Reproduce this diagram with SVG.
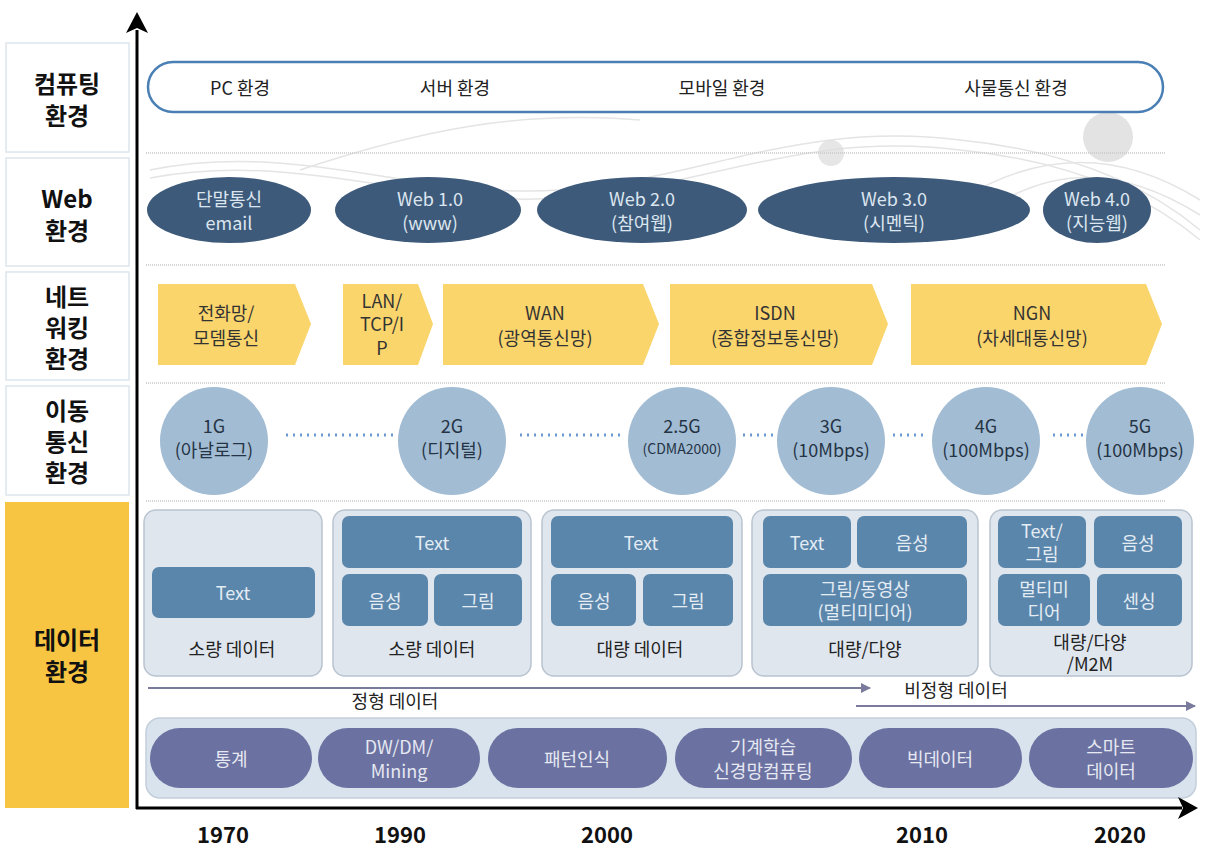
<svg xmlns="http://www.w3.org/2000/svg" width="1206" height="851" viewBox="0 0 1206 851">
<defs>
<style>
text{font-family:"Noto Sans CJK KR","Noto Sans",sans-serif;text-anchor:middle;dominant-baseline:central}
.lbl{font-size:24px;font-weight:bold;fill:#111}
.lbox{fill:#fff;stroke:#dce6ee;stroke-width:1.5}
.comp{font-size:18px;fill:#222}
.web{fill:#3e5a7a}
.webt{font-size:18px;fill:#dce6f0}
.chev{fill:#fad56c}
.chevt{font-size:18px;fill:#333}
.circ{fill:#a2bcd4}
.circt{font-size:18px;fill:#253445}
.dots{stroke:#6a9ad0;stroke-width:3;stroke-dasharray:2 5;fill:none}
.sep{stroke:#c8c8c8;stroke-width:1.5;stroke-dasharray:1 1;fill:none}
.dbox{fill:#dfe6ee;stroke:#b8c4d0;stroke-width:1.5}
.ibox{fill:#5b86ab}
.ibt{font-size:18px;fill:#e4ecf4}
.dlt{font-size:18px;fill:#222}
.pill{fill:#6b72a1}
.pillt{font-size:18px;fill:#e6e8f2}
.year{font-size:22px;font-weight:bold;fill:#111}
.parr{stroke:#7a7a9c;stroke-width:2;fill:none}
.swoosh{stroke:#e4e4e4;stroke-width:1.5;fill:none}
</style>
<marker id="pa" viewBox="0 0 10 10" refX="9" refY="5" markerWidth="5" markerHeight="5" orient="auto" markerUnits="strokeWidth"><path d="M0,0 L10,5 L0,10 Z" fill="#7a7a9c"/></marker>
</defs>
<rect width="1206" height="851" fill="#fff"/>

<!-- background decoration -->
<g id="decor">
<path class="swoosh" d="M150,170 C300,140 420,200 560,190 C700,180 800,120 960,140 C1060,150 1140,180 1200,230"/>
<path class="swoosh" d="M150,178 C300,150 420,208 560,198 C700,190 800,130 960,150 C1060,160 1140,190 1200,240"/>
<path class="swoosh" d="M300,170 C420,130 520,110 640,120"/>
<path class="swoosh" d="M960,200 C1040,150 1120,150 1200,200"/>
<path class="swoosh" d="M980,215 C1050,165 1120,165 1200,215"/>
<circle cx="1108" cy="137" r="25" fill="#dcdcdc" opacity="0.8"/>
<circle cx="831" cy="153" r="13" fill="#dcdcdc" opacity="0.7"/>
</g>

<!-- row separators -->
<g id="separators">
<line class="sep" x1="146" y1="153" x2="1165" y2="153"/>
<line class="sep" x1="146" y1="265" x2="1165" y2="265"/>
<line class="sep" x1="146" y1="383" x2="1165" y2="383"/>
<line class="sep" x1="146" y1="501" x2="1165" y2="501"/>
</g>

<!-- left labels -->
<g id="label-computing"><rect class="lbox" x="6" y="43" width="123" height="109"/><text class="lbl" x="67" y="82">컴퓨팅</text><text class="lbl" x="67" y="114">환경</text></g>
<g id="label-web"><rect class="lbox" x="6" y="158" width="123" height="108"/><text class="lbl" x="67" y="197">Web</text><text class="lbl" x="67" y="229">환경</text></g>
<g id="label-network"><rect class="lbox" x="6" y="272" width="123" height="108"/><text class="lbl" x="67" y="295">네트</text><text class="lbl" x="67" y="326">워킹</text><text class="lbl" x="67" y="357">환경</text></g>
<g id="label-mobile"><rect class="lbox" x="6" y="386" width="123" height="109"/><text class="lbl" x="67" y="409">이동</text><text class="lbl" x="67" y="440">통신</text><text class="lbl" x="67" y="471">환경</text></g>
<g id="label-data"><rect x="5" y="502" width="124" height="306" fill="#f8c542"/><text class="lbl" x="67" y="638">데이터</text><text class="lbl" x="67" y="670">환경</text></g>

<!-- computing -->
<g id="computing">
<rect x="148" y="62" width="1015" height="50" rx="25" fill="#fff" stroke="#4a7fb5" stroke-width="2.5"/>
<text class="comp" x="240" y="87">PC 환경</text>
<text class="comp" x="455" y="87">서버 환경</text>
<text class="comp" x="722" y="87">모바일 환경</text>
<text class="comp" x="1016" y="87">사물통신 환경</text>
</g>

<!-- web -->
<g id="web-1"><ellipse class="web" cx="229" cy="210" rx="82" ry="33"/><text class="webt" x="229" y="198">단말통신</text><text class="webt" x="229" y="222">email</text></g>
<g id="web-2"><ellipse class="web" cx="428" cy="210" rx="93" ry="33"/><text class="webt" x="430" y="198">Web 1.0</text><text class="webt" x="430" y="222">(www)</text></g>
<g id="web-3"><ellipse class="web" cx="642" cy="210" rx="105" ry="33"/><text class="webt" x="642" y="198">Web 2.0</text><text class="webt" x="642" y="222">(참여웹)</text></g>
<g id="web-4"><ellipse class="web" cx="894" cy="210" rx="136" ry="33"/><text class="webt" x="894" y="198">Web 3.0</text><text class="webt" x="894" y="222">(시멘틱)</text></g>
<g id="web-5"><ellipse class="web" cx="1097" cy="210" rx="54" ry="33"/><text class="webt" x="1097" y="198">Web 4.0</text><text class="webt" x="1097" y="222">(지능웹)</text></g>

<!-- networking -->
<g id="net-1"><polygon class="chev" points="158,284 295,284 311,324 295,365 158,365"/><text class="chevt" x="226" y="312">전화망/</text><text class="chevt" x="226" y="337">모뎀통신</text></g>
<g id="net-2"><polygon class="chev" points="343,284 418,284 433,324 418,365 343,365"/><text class="chevt" x="382" y="300">LAN/</text><text class="chevt" x="382" y="323">TCP/I</text><text class="chevt" x="382" y="347">P</text></g>
<g id="net-3"><polygon class="chev" points="443,284 643,284 659,324 643,365 443,365"/><text class="chevt" x="545" y="312">WAN</text><text class="chevt" x="545" y="337">(광역통신망)</text></g>
<g id="net-4"><polygon class="chev" points="670,284 872,284 888,324 872,365 670,365"/><text class="chevt" x="775" y="312">ISDN</text><text class="chevt" x="775" y="337">(종합정보통신망)</text></g>
<g id="net-5"><polygon class="chev" points="911,284 1146,284 1162,324 1146,365 911,365"/><text class="chevt" x="1032" y="312">NGN</text><text class="chevt" x="1032" y="337">(차세대통신망)</text></g>

<!-- connectors -->
<g id="connectors">
<line class="dots" x1="286" y1="435" x2="393" y2="435"/>
<line class="dots" x1="520" y1="435" x2="620" y2="435"/>
<line class="dots" x1="743" y1="435" x2="773" y2="435"/>
<line class="dots" x1="893" y1="435" x2="926" y2="435"/>
<line class="dots" x1="1053" y1="435" x2="1083" y2="435"/>
<line class="parr" x1="148" y1="688" x2="870" y2="688" marker-end="url(#pa)"/>
<line class="parr" x1="856" y1="706" x2="1195" y2="706" marker-end="url(#pa)"/>
</g>

<!-- mobile -->
<g id="mob-1"><circle class="circ" cx="214" cy="441" r="54"/><text class="circt" x="214" y="425">1G</text><text class="circt" x="214" y="449">(아날로그)</text></g>
<g id="mob-2"><circle class="circ" cx="452" cy="441" r="54"/><text class="circt" x="452" y="425">2G</text><text class="circt" x="452" y="449">(디지털)</text></g>
<g id="mob-3"><circle class="circ" cx="682" cy="441" r="54"/><text class="circt" x="682" y="425">2.5G</text><text class="circt" x="682" y="448" style="font-size:14px">(CDMA2000)</text></g>
<g id="mob-4"><circle class="circ" cx="831" cy="441" r="54"/><text class="circt" x="831" y="425">3G</text><text class="circt" x="831" y="449">(10Mbps)</text></g>
<g id="mob-5"><circle class="circ" cx="986" cy="441" r="54"/><text class="circt" x="986" y="425">4G</text><text class="circt" x="986" y="449">(100Mbps)</text></g>
<g id="mob-6"><circle class="circ" cx="1140" cy="441" r="54"/><text class="circt" x="1140" y="425">5G</text><text class="circt" x="1140" y="449">(100Mbps)</text></g>

<!-- data -->
<g id="data-1">
<rect class="dbox" x="144" y="510" width="178" height="166" rx="12"/>
<rect class="ibox" x="152" y="567" width="163" height="51" rx="7"/><text class="ibt" x="233" y="592">Text</text>
<text class="dlt" x="232" y="648">소량 데이터</text>
</g>
<g id="data-2">
<rect class="dbox" x="333" y="510" width="198" height="166" rx="12"/>
<rect class="ibox" x="342" y="516" width="180" height="52" rx="7"/><text class="ibt" x="432" y="542">Text</text>
<rect class="ibox" x="342" y="574" width="86" height="52" rx="7"/><text class="ibt" x="385" y="600">음성</text>
<rect class="ibox" x="434" y="574" width="88" height="52" rx="7"/><text class="ibt" x="478" y="600">그림</text>
<text class="dlt" x="432" y="648">소량 데이터</text>
</g>
<g id="data-3">
<rect class="dbox" x="542" y="510" width="200" height="166" rx="12"/>
<rect class="ibox" x="551" y="516" width="182" height="52" rx="7"/><text class="ibt" x="641" y="542">Text</text>
<rect class="ibox" x="551" y="574" width="85" height="52" rx="7"/><text class="ibt" x="594" y="600">음성</text>
<rect class="ibox" x="643" y="574" width="90" height="52" rx="7"/><text class="ibt" x="688" y="600">그림</text>
<text class="dlt" x="640" y="648">대량 데이터</text>
</g>
<g id="data-4">
<rect class="dbox" x="752" y="510" width="226" height="166" rx="12"/>
<rect class="ibox" x="763" y="516" width="88" height="52" rx="7"/><text class="ibt" x="807" y="542">Text</text>
<rect class="ibox" x="857" y="516" width="110" height="52" rx="7"/><text class="ibt" x="912" y="542">음성</text>
<rect class="ibox" x="763" y="574" width="204" height="52" rx="7"/><text class="ibt" x="865" y="588">그림/동영상</text><text class="ibt" x="865" y="611">(멀티미디어)</text>
<text class="dlt" x="865" y="648">대량/다양</text>
</g>
<g id="data-5">
<rect class="dbox" x="990" y="510" width="202" height="166" rx="12"/>
<rect class="ibox" x="998" y="516" width="88" height="52" rx="7"/><text class="ibt" x="1042" y="530">Text/</text><text class="ibt" x="1042" y="553">그림</text>
<rect class="ibox" x="1094" y="516" width="88" height="52" rx="7"/><text class="ibt" x="1138" y="542">음성</text>
<rect class="ibox" x="998" y="574" width="92" height="52" rx="7"/><text class="ibt" x="1044" y="588">멀티미</text><text class="ibt" x="1044" y="611">디어</text>
<rect class="ibox" x="1097" y="574" width="85" height="52" rx="7"/><text class="ibt" x="1139" y="600">센싱</text>
<text class="dlt" x="1090" y="641">대량/다양</text>
<text class="dlt" x="1090" y="663">/M2M</text>
</g>
<g id="data-kind-labels">
<text class="dlt" x="395" y="700">정형 데이터</text>
<text class="dlt" x="956" y="689">비정형 데이터</text>
</g>

<!-- analysis band -->
<g id="analysis">
<rect x="146" y="718" width="1050" height="80" rx="14" fill="#d9e3ed" stroke="#c3cfdb" stroke-width="1.5"/>
</g>
<g id="ana-1"><rect class="pill" x="150" y="728" width="162" height="60" rx="30"/><text class="pillt" x="231" y="758">통계</text></g>
<g id="ana-2"><rect class="pill" x="318" y="728" width="162" height="60" rx="30"/><text class="pillt" x="399" y="746">DW/DM/</text><text class="pillt" x="399" y="770">Mining</text></g>
<g id="ana-3"><rect class="pill" x="488" y="728" width="179" height="60" rx="30"/><text class="pillt" x="577" y="758">패턴인식</text></g>
<g id="ana-4"><rect class="pill" x="675" y="728" width="177" height="60" rx="30"/><text class="pillt" x="763" y="746">기계학습</text><text class="pillt" x="763" y="770">신경망컴퓨팅</text></g>
<g id="ana-5"><rect class="pill" x="859" y="728" width="163" height="60" rx="30"/><text class="pillt" x="940" y="758">빅데이터</text></g>
<g id="ana-6"><rect class="pill" x="1029" y="728" width="164" height="60" rx="30"/><text class="pillt" x="1111" y="746">스마트</text><text class="pillt" x="1111" y="770">데이터</text></g>

<!-- axes -->
<g id="axes">
<line x1="137" y1="30" x2="137" y2="809" stroke="#000" stroke-width="3"/>
<polygon points="137,12 148,33 137,28 126,33" fill="#000"/>
<line x1="136" y1="808" x2="1182" y2="808" stroke="#000" stroke-width="3"/>
<polygon points="1198,808 1178,797 1183,808 1178,819" fill="#000"/>
</g>
<g id="years">
<text class="year" x="223" y="833">1970</text>
<text class="year" x="400" y="833">1990</text>
<text class="year" x="607" y="833">2000</text>
<text class="year" x="922" y="833">2010</text>
<text class="year" x="1120" y="833">2020</text>
</g>
</svg>
